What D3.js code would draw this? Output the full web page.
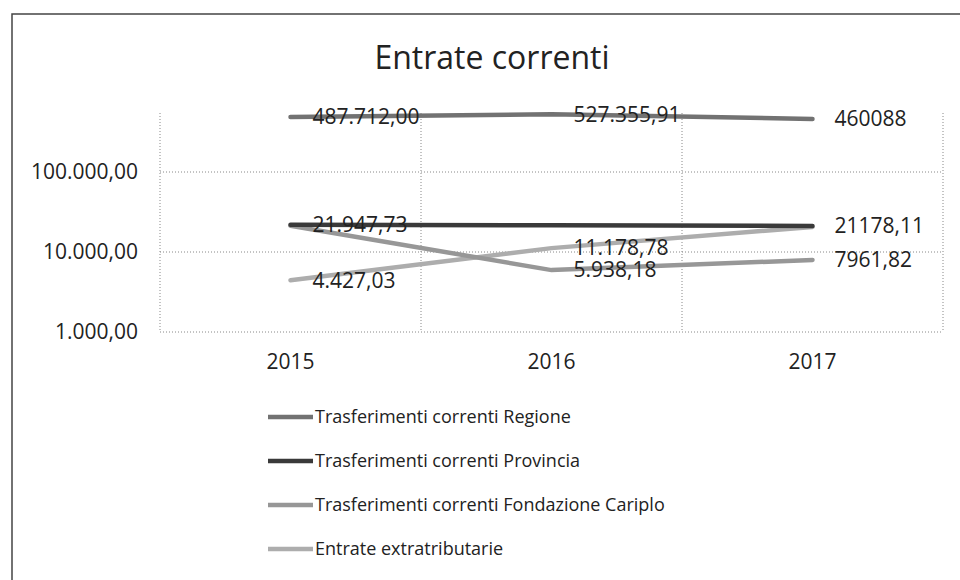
<!DOCTYPE html>
<html>
<head>
<meta charset="utf-8">
<script src="https://cdn.jsdelivr.net/npm/d3@7"></script>
<style>
    body { margin: 0; background: #fff; }
    svg { display: block; font-family: 'Open Sans', Lato, sans-serif; }
</style>
</head>
<body>
<div id="chart"></div>
<script>
// Entrate correnti - line chart on log scale
const years = ['2015', '2016', '2017'];
const seriesNames = [
    'Trasferimenti correnti Regione',
    'Trasferimenti correnti Provincia',
    'Trasferimenti correnti Fondazione Cariplo',
    'Entrate extratributarie'
];
const regione = [487712, 527355.91, 460088];
const provincia = [21947.73, 21600, 21178.11];
const cariplo = [21300, 5938.18, 7961.82];
const extratributarie = [4427.03, 11178.78, 20600];
// data labels as printed on the chart (null = no label)
const regioneLabels = ['487.712,00', '527.355,91', '460088'];
const provinciaLabels = ['21.947,73', null, '21178,11'];
const cariploLabels = [null, '5.938,18', '7961,82'];
const extratributarieLabels = ['4.427,03', '11.178,78', null];
const yTicks = [1000, 10000, 100000];
const yTickLabels = ['1.000,00', '10.000,00', '100.000,00'];
const lineColors = ['#727272', '#3a3a3a', '#979797', '#adadad'];

const width = 960;
const height = 580;
const plot = { left: 160, right: 943, top: 92, bottom: 332, gridTop: 113 };

const svg = d3.select('#chart').append('svg')
    .attr('width', width)
    .attr('height', height);

// outer frame of the chart
svg.append('rect')
    .attr('x', 12)
    .attr('y', 14)
    .attr('width', 1000)
    .attr('height', 700)
    .style('fill', 'none')
    .style('stroke', '#444')
    .style('stroke-width', 1.5);

svg.append('text')
    .attr('x', 492)
    .attr('y', 58)
    .attr('dy', '0.35em')
    .attr('text-anchor', 'middle')
    .style('font-size', '32px')
    .style('fill', '#222')
    .text('Entrate correnti');

const x = d3.scaleBand()
    .domain(years)
    .range([plot.left, plot.right]);

const y = d3.scaleLog()
    .domain([1000, 1000000])
    .range([plot.bottom, plot.top]);

// horizontal gridlines
svg.selectAll('.hgrid')
    .data(yTicks)
    .enter()
    .append('line')
    .attr('class', 'hgrid')
    .attr('x1', plot.left)
    .attr('x2', plot.right)
    .attr('y1', d => y(d))
    .attr('y2', d => y(d))
    .style('stroke', '#888')
    .style('stroke-width', 1)
    .style('stroke-dasharray', '1,2');

// vertical gridlines on category boundaries
const boundaries = years.map(d => x(d)).concat([plot.right]);
svg.selectAll('.vgrid')
    .data(boundaries)
    .enter()
    .append('line')
    .attr('class', 'vgrid')
    .attr('x1', d => d)
    .attr('x2', d => d)
    .attr('y1', plot.gridTop)
    .attr('y2', plot.bottom)
    .style('stroke', '#888')
    .style('stroke-width', 1)
    .style('stroke-dasharray', '1,2');

// y axis labels
svg.selectAll('.ylab')
    .data(yTicks)
    .enter()
    .append('text')
    .attr('class', 'ylab')
    .attr('x', plot.left - 22)
    .attr('y', d => y(d))
    .attr('dy', '0.35em')
    .attr('text-anchor', 'end')
    .style('font-size', '21px')
    .style('fill', '#222')
    .text((d, i) => yTickLabels[i]);

// x axis labels
svg.selectAll('.xlab')
    .data(years)
    .enter()
    .append('text')
    .attr('class', 'xlab')
    .attr('x', d => x(d) + x.bandwidth() / 2)
    .attr('y', plot.bottom + 30)
    .attr('dy', '0.35em')
    .attr('text-anchor', 'middle')
    .style('font-size', '21px')
    .style('fill', '#222')
    .text(d => d);

const series = [
    { name: seriesNames[0], values: regione, labels: regioneLabels },
    { name: seriesNames[1], values: provincia, labels: provinciaLabels },
    { name: seriesNames[2], values: cariplo, labels: cariploLabels },
    { name: seriesNames[3], values: extratributarie, labels: extratributarieLabels }
];

const line = d3.line()
    .x((d, i) => x(years[i]) + x.bandwidth() / 2)
    .y(d => y(d));

// draw light series first so the dark ones sit on top
const drawOrder = [3, 2, 0, 1];
drawOrder.forEach(k => {
    svg.append('path')
        .datum(series[k].values)
        .attr('d', line)
        .style('fill', 'none')
        .style('stroke', lineColors[k])
        .style('stroke-width', 4.5)
        .style('stroke-linecap', 'round');
});

// data labels, right of each point
series.forEach(s => {
    s.values.forEach((v, i) => {
        if (!s.labels[i]) return;
        svg.append('text')
            .attr('x', x(years[i]) + x.bandwidth() / 2 + 22)
            .attr('y', y(v))
            .attr('dy', '0.35em')
            .style('font-size', '21px')
            .style('fill', '#222')
            .text(s.labels[i]);
    });
});

// legend
const legend = svg.selectAll('.legend')
    .data(series)
    .enter()
    .append('g')
    .attr('class', 'legend')
    .attr('transform', (d, i) => `translate(268, ${417 + i * 44})`);

legend.append('line')
    .attr('x1', 0)
    .attr('x2', 45)
    .style('stroke', (d, i) => lineColors[i])
    .style('stroke-width', 4.5);

legend.append('text')
    .attr('x', 47)
    .attr('dy', '0.35em')
    .style('font-size', '18px')
    .style('fill', '#222')
    .text(d => d.name);
</script>
</body>
</html>
